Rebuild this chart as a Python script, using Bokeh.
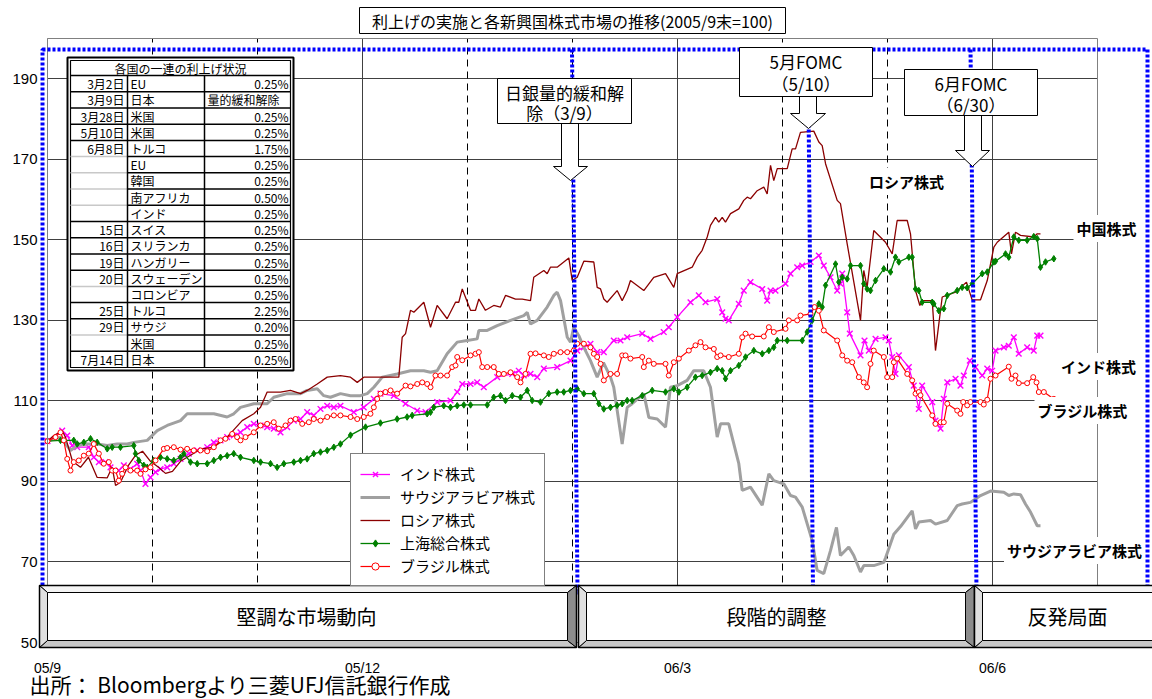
from bokeh.plotting import figure
from bokeh.models import Range1d, FixedTicker, Grid, Legend, LegendItem, Label, PolyAnnotation
from bokeh.core.properties import value
from bokeh.embed import file_html
from bokeh.resources import INLINE

JP = "Noto Sans CJK JP"
LAT = "Liberation Sans"

# ---------------- data ----------------
TITLE = "利上げの実施と各新興国株式市場の推移(2005/9末=100)"
SOURCE = "出所： Bloombergより三菱UFJ信託銀行作成"
X_LO, X_HI, Y_LO, Y_HI = 0.0, 10.0, 50.0, 200.0
X_TICKS = [0, 3, 6, 9]
X_TICK_LABELS = ["05/9", "05/12", "06/3", "06/6"]
Y_TICKS = [50, 70, 90, 110, 130, 150, 170, 190]
MONTH_LINES_SOLID = [3, 6, 9]
MONTH_LINES_DASHED = [1, 2, 4, 5, 7, 8]
SERIES_NAMES = ["インド株式", "サウジアラビア株式", "ロシア株式", "上海総合株式", "ブラジル株式"]
END_LABELS = ["ロシア株式", "中国株式", "インド株式", "ブラジル株式", "サウジアラビア株式"]
PHASES = ["堅調な市場動向", "段階的調整", "反発局面"]
EVENT_TEXT = [["日銀量的緩和解", "除（3/9）"], ["5月FOMC", "（5/10）"], ["6月FOMC", "（6/30）"]]

TABLE_HEADER = "各国の一連の利上げ状況"
TABLE_DATES = ["3月2日", "3月9日", "3月28日", "5月10日", "6月8日", "", "", "", "", "15日", "16日",
               "19日", "20日", "", "25日", "29日", "", "7月14日"]
TABLE_COUNTRIES = ["EU", "日本", "米国", "米国", "トルコ", "EU", "韓国", "南アフリカ", "インド", "スイス",
                   "スリランカ", "ハンガリー", "スウェーデン", "コロンビア", "トルコ", "サウジ", "米国", "日本"]
TABLE_RATES = ["0.25%", "量的緩和解除", "0.25%", "0.25%", "1.75%", "0.25%", "0.25%", "0.50%", "0.25%",
               "0.25%", "0.25%", "0.25%", "0.25%", "0.25%", "2.25%", "0.20%", "0.25%", "0.25%"]

# x = months after end of Sep 2005
IND_X = [0, 0.14, 0.188, 0.235, 0.283, 0.393, 0.441, 0.489, 0.552, 0.6, 0.679, 0.727, 0.79, 0.854, 0.886, 0.933, 0.981, 1.029, 1.076, 1.14, 1.203, 1.267, 1.346, 1.426, 1.521, 1.584, 1.648, 1.711, 1.774, 1.838, 1.902, 1.965, 2.029, 2.092, 2.155, 2.219, 2.283, 2.346, 2.41, 2.473, 2.536, 2.6, 2.664, 2.727, 2.79, 2.917, 3.012, 3.108, 3.171, 3.298, 3.41, 3.521, 3.6, 3.711, 3.838, 3.902, 3.95, 4.029, 4.092, 4.155, 4.283, 4.426, 4.488, 4.536, 4.6, 4.664, 4.727, 4.854, 4.981, 5.045, 5.108, 5.171, 5.235, 5.298, 5.393, 5.457, 5.521, 5.664, 5.743, 5.869, 5.917, 5.997, 6.124, 6.203, 6.267, 6.378, 6.426, 6.457, 6.488, 6.584, 6.631, 6.695, 6.807, 6.854, 6.886, 6.933, 7.029, 7.076, 7.14, 7.188, 7.267, 7.346, 7.393, 7.457, 7.521, 7.552, 7.569, 7.616, 7.641, 7.743, 7.781, 7.822, 7.886, 7.981, 8.012, 8.045, 8.076, 8.108, 8.203, 8.25, 8.298, 8.33, 8.426, 8.457, 8.505, 8.536, 8.569, 8.648, 8.695, 8.727, 8.784, 8.838, 8.902, 8.95, 8.997, 9.029, 9.108, 9.155, 9.203, 9.25, 9.33, 9.393, 9.426, 9.457]
IND_Y = [100, 102.6, 101.4, 98.9, 98.5, 98.5, 96, 94.8, 94.8, 93.5, 92.7, 94, 93.1, 94.4, 92.7, 89.4, 91, 92.3, 93.1, 93.5, 94.4, 95.6, 96.9, 97.7, 98.5, 99.7, 100.2, 101, 101.4, 102.2, 103.5, 104.3, 103.9, 103.5, 103.1, 102.2, 103.5, 105.1, 105.5, 107.2, 106.4, 108, 108.8, 108.4, 108.8, 107.2, 108.4, 110.5, 111.8, 111.3, 109.3, 107.6, 107.2, 109.7, 110.1, 112.2, 114.2, 114.2, 114.6, 113.4, 115.9, 116.7, 117.5, 116.3, 116.7, 115.9, 118, 118.4, 120, 122.5, 123.3, 124.2, 122.1, 122.1, 125, 125, 125.8, 126.7, 125.4, 127.1, 128.3, 130.8, 134.5, 136.2, 134.5, 135.3, 132, 130.4, 130, 134.1, 137.4, 139.5, 137.8, 134.9, 137.4, 137.4, 139.1, 141.6, 143.2, 143.6, 144.5, 146.1, 143.6, 140.7, 137.4, 139.1, 141.6, 132, 126.7, 121.3, 125, 122.5, 125.4, 125.8, 125, 120.9, 116.7, 121.3, 118.4, 113.8, 108, 113.8, 109.7, 105.1, 103.1, 110.5, 114.6, 115.5, 113.8, 116.3, 120, 118.4, 116.3, 118, 117.5, 122.5, 123.3, 123.7, 125.8, 121.7, 123.3, 122.5, 126.2, 126.2]

SAU_X = [0, 0.124, 0.219, 0.283, 0.378, 0.473, 0.569, 0.664, 0.759, 0.822, 0.95, 1.045, 1.14, 1.267, 1.33, 1.457, 1.584, 1.711, 1.774, 1.838, 1.965, 2.092, 2.155, 2.283, 2.41, 2.473, 2.569, 2.631, 2.695, 2.79, 2.886, 2.981, 3.045, 3.108, 3.188, 3.33, 3.457, 3.584, 3.648, 3.711, 3.806, 3.902, 3.997, 4.092, 4.108, 4.188, 4.283, 4.41, 4.536, 4.569, 4.6, 4.664, 4.759, 4.822, 4.854, 4.886, 4.95, 4.981, 5.012, 5.06, 5.108, 5.171, 5.235, 5.295, 5.362, 5.393, 5.473, 5.521, 5.568, 5.679, 5.727, 5.807, 5.886, 5.933, 5.997, 6.092, 6.155, 6.25, 6.314, 6.378, 6.41, 6.488, 6.584, 6.616, 6.695, 6.807, 6.87, 6.917, 7.012, 7.076, 7.124, 7.188, 7.283, 7.33, 7.393, 7.457, 7.514, 7.552, 7.631, 7.679, 7.743, 7.774, 7.869, 7.965, 7.981, 8.06, 8.124, 8.235, 8.267, 8.298, 8.41, 8.457, 8.569, 8.664, 8.711, 8.79, 8.886, 8.981, 9.108, 9.155, 9.203, 9.267, 9.314, 9.362, 9.426, 9.457]
SAU_Y = [100, 101, 97.7, 98.9, 99.3, 99.3, 98.9, 99.3, 99.3, 99.7, 100.2, 102.6, 103.9, 105.1, 106.8, 106.8, 106.8, 106, 106.8, 108.4, 109.3, 109.3, 110.9, 111.8, 111.8, 112.6, 113, 111.3, 110.9, 111.8, 111.3, 111.3, 111.8, 113.4, 115.9, 116.7, 117.5, 117.5, 117.1, 117.5, 121.7, 124.6, 125, 125.4, 127.5, 127.5, 128.7, 130, 131.2, 132, 129.1, 130, 133.3, 136.2, 137, 134.9, 125.8, 124.6, 128.3, 126.2, 123.3, 120, 115.9, 119.5, 115.9, 113.4, 99.3, 108.4, 109.3, 111.8, 105.9, 105.5, 103.5, 113.4, 113.8, 115.1, 117.5, 117.5, 113.4, 101, 104.3, 104.3, 94.4, 87.8, 88.6, 84.1, 91.9, 90.2, 89.4, 86.5, 86.1, 83.6, 75.3, 67.9, 67.1, 72.8, 78.6, 71.6, 73.7, 71.6, 67.5, 69.1, 69.1, 69.9, 71, 76.9, 78.8, 82.7, 78.2, 79.9, 80.3, 79.4, 80.3, 84, 84.4, 84.8, 86.5, 87.6, 87.3, 86.5, 86.9, 86.7, 84.4, 82.4, 79, 79]

RUS_X = [0, 0.06, 0.14, 0.171, 0.238, 0.314, 0.39, 0.473, 0.569, 0.616, 0.648, 0.695, 0.771, 0.838, 0.905, 0.981, 1.057, 1.124, 1.19, 1.267, 1.362, 1.457, 1.581, 1.711, 1.854, 1.965, 2.029, 2.092, 2.219, 2.314, 2.41, 2.473, 2.569, 2.664, 2.79, 2.886, 2.95, 3.012, 3.14, 3.251, 3.346, 3.378, 3.41, 3.457, 3.489, 3.584, 3.648, 3.711, 3.806, 3.886, 3.917, 3.95, 4.029, 4.076, 4.108, 4.171, 4.25, 4.314, 4.362, 4.457, 4.521, 4.6, 4.631, 4.727, 4.759, 4.79, 4.854, 4.917, 4.965, 4.997, 5.045, 5.108, 5.203, 5.235, 5.267, 5.298, 5.33, 5.425, 5.473, 5.521, 5.552, 5.679, 5.774, 5.886, 5.965, 5.997, 6.14, 6.188, 6.235, 6.283, 6.314, 6.362, 6.393, 6.426, 6.457, 6.505, 6.584, 6.631, 6.664, 6.695, 6.759, 6.822, 6.854, 6.886, 6.917, 6.95, 7.045, 7.092, 7.124, 7.171, 7.298, 7.346, 7.378, 7.41, 7.521, 7.552, 7.616, 7.743, 7.774, 7.806, 7.869, 7.981, 8.045, 8.092, 8.188, 8.219, 8.267, 8.308, 8.33, 8.426, 8.457, 8.521, 8.648, 8.752, 8.806, 8.886, 8.95, 9.013, 9.045, 9.155, 9.181, 9.219, 9.267, 9.393, 9.426, 9.457]
RUS_Y = [100, 101.4, 102.6, 101, 95, 93.5, 96, 91, 90.9, 93.5, 89, 89.8, 94, 96.5, 97.5, 95, 93.5, 92, 92.5, 95, 96.5, 98, 98.5, 101, 105.1, 106.8, 108.4, 112.2, 112.2, 112.6, 111.8, 112.6, 114.2, 115.9, 116.3, 115.9, 114.6, 115.9, 115.9, 115.9, 115.9, 125.8, 126.7, 132.5, 132, 134.5, 128.3, 133.7, 130.4, 134.5, 134.5, 137.8, 132.5, 132.5, 135.3, 132.5, 133.7, 133.3, 136.2, 135.3, 135.3, 134.9, 140.7, 142.4, 141.6, 143.2, 143.2, 144.5, 145.5, 139.9, 140.7, 144.7, 144.5, 138.2, 137.8, 135.3, 134.5, 137.4, 134.9, 137.4, 139.9, 137.4, 140.7, 141.6, 138.2, 141.6, 143.2, 145.7, 147.4, 150.7, 153.6, 155.6, 154.4, 155.6, 154.4, 156.5, 157.7, 159.8, 160.6, 160.2, 162.2, 163.1, 161.4, 168.5, 164.7, 167.7, 167.7, 172.6, 172.6, 176.7, 177, 174.3, 173.4, 168.9, 159.8, 159, 149, 130, 142.4, 138.2, 152.3, 149.4, 146.5, 154.8, 154.8, 151.5, 137.4, 133.7, 134.9, 134.9, 122.5, 135.8, 137, 139.5, 135.1, 135.1, 139.9, 148.2, 149.4, 151.9, 146.5, 151.9, 151.1, 150.7, 151.5, 151.5]

CHN_X = [0, 0.124, 0.25, 0.283, 0.346, 0.41, 0.473, 0.569, 0.616, 0.695, 0.822, 0.838, 0.87, 0.917, 0.95, 1.012, 1.076, 1.14, 1.203, 1.267, 1.298, 1.362, 1.426, 1.521, 1.584, 1.648, 1.711, 1.774, 1.838, 1.965, 2.029, 2.124, 2.187, 2.251, 2.346, 2.41, 2.473, 2.536, 2.6, 2.664, 2.727, 2.79, 2.886, 3.029, 3.171, 3.33, 3.425, 3.473, 3.616, 3.648, 3.679, 3.774, 3.838, 3.902, 3.965, 4.029, 4.188, 4.25, 4.314, 4.362, 4.426, 4.505, 4.569, 4.616, 4.695, 4.774, 4.854, 4.917, 4.981, 5.045, 5.108, 5.203, 5.251, 5.298, 5.362, 5.425, 5.473, 5.521, 5.568, 5.664, 5.759, 5.886, 5.965, 6.013, 6.092, 6.171, 6.235, 6.314, 6.378, 6.426, 6.457, 6.505, 6.584, 6.648, 6.727, 6.807, 6.87, 6.917, 6.95, 7.045, 7.188, 7.235, 7.283, 7.346, 7.378, 7.41, 7.505, 7.536, 7.569, 7.616, 7.648, 7.743, 7.774, 7.806, 7.838, 7.886, 7.965, 8.029, 8.076, 8.108, 8.203, 8.235, 8.267, 8.298, 8.33, 8.426, 8.441, 8.489, 8.536, 8.569, 8.664, 8.711, 8.759, 8.807, 8.902, 8.95, 9.013, 9.029, 9.124, 9.155, 9.203, 9.25, 9.33, 9.393, 9.426, 9.457, 9.505, 9.584]
CHN_Y = [100, 100.2, 100.2, 99.3, 99.7, 100.6, 99.7, 98.1, 98.5, 98.5, 98.9, 96.9, 95.2, 94, 93.5, 95.2, 96, 95.6, 95.2, 96, 96.9, 94.8, 94.4, 94.4, 95.2, 96, 96.4, 96.9, 96, 95.2, 94.8, 94.4, 93.5, 94.4, 94.8, 95.2, 95.6, 96.9, 97.3, 97.7, 98.5, 99.3, 101.5, 103.5, 104.5, 105.5, 106, 106.4, 106.8, 107.2, 108.4, 108.8, 108.4, 108.8, 109, 109, 109, 110.9, 111.3, 110.1, 111.3, 110.9, 112.6, 110.1, 109.7, 111.8, 112.2, 112.2, 112.6, 113, 111.8, 111.8, 109.3, 108, 108.4, 108.9, 109.3, 110.1, 110.1, 111.3, 112.6, 112.2, 113, 112.2, 113.4, 115.9, 116.3, 117.1, 118, 117.5, 115.5, 117.5, 118.8, 120.9, 122.5, 121.7, 122.5, 123.3, 125, 125, 125, 127.1, 130, 134.1, 133.3, 138.7, 144, 139.5, 140.7, 140.3, 143.6, 143.6, 139.1, 137.8, 137.4, 139.9, 142.8, 142, 145.7, 144.5, 145.7, 145.7, 137.8, 137.4, 134.5, 134.5, 134.1, 132.4, 132.9, 136.2, 137.4, 138.2, 138.1, 139.1, 141.6, 142, 144.5, 144.7, 146.5, 145.7, 150.7, 149.9, 149.9, 150.8, 150.3, 143.2, 144.5, 145.3]

BRA_X = [0, 0.076, 0.124, 0.155, 0.188, 0.219, 0.25, 0.298, 0.346, 0.393, 0.441, 0.489, 0.536, 0.584, 0.616, 0.648, 0.679, 0.711, 0.743, 0.79, 0.854, 0.886, 0.933, 0.981, 1.029, 1.108, 1.14, 1.203, 1.267, 1.33, 1.393, 1.457, 1.521, 1.584, 1.648, 1.695, 1.759, 1.806, 1.838, 1.886, 1.965, 2.029, 2.092, 2.155, 2.203, 2.267, 2.314, 2.362, 2.426, 2.489, 2.536, 2.6, 2.664, 2.727, 2.79, 2.886, 2.95, 3.012, 3.076, 3.108, 3.14, 3.171, 3.219, 3.267, 3.33, 3.41, 3.457, 3.521, 3.569, 3.616, 3.648, 3.695, 3.743, 3.806, 3.854, 3.886, 3.902, 3.95, 4.029, 4.076, 4.108, 4.14, 4.188, 4.25, 4.298, 4.346, 4.41, 4.474, 4.505, 4.552, 4.6, 4.648, 4.727, 4.774, 4.822, 4.886, 4.95, 5.012, 5.045, 5.108, 5.171, 5.203, 5.235, 5.267, 5.298, 5.362, 5.425, 5.473, 5.505, 5.552, 5.664, 5.679, 5.727, 5.774, 5.886, 5.917, 5.965, 6.013, 6.108, 6.171, 6.219, 6.267, 6.346, 6.378, 6.41, 6.488, 6.584, 6.616, 6.648, 6.711, 6.822, 6.87, 6.917, 7.029, 7.06, 7.14, 7.171, 7.267, 7.305, 7.346, 7.393, 7.521, 7.569, 7.616, 7.664, 7.727, 7.774, 7.806, 7.838, 7.869, 7.965, 7.997, 8.045, 8.06, 8.092, 8.188, 8.235, 8.267, 8.298, 8.314, 8.426, 8.457, 8.505, 8.536, 8.569, 8.664, 8.695, 8.721, 8.759, 8.79, 8.886, 8.917, 8.95, 8.981, 9.029, 9.155, 9.181, 9.219, 9.25, 9.33, 9.388, 9.419, 9.441, 9.489, 9.584]
BRA_Y = [100, 101, 102.2, 100.2, 95.6, 92.7, 94.8, 95.2, 96.4, 96.9, 99.3, 96.9, 94.4, 94.8, 92.7, 92.7, 90.2, 91.9, 93.5, 92.7, 92.7, 91.9, 93, 93.5, 95.2, 98.1, 98.3, 98.5, 97.9, 98.1, 97.7, 97.7, 97.5, 98.5, 100.2, 100.6, 101.8, 101, 100.2, 101, 102.2, 103.9, 104.3, 104.7, 103.1, 103.9, 105.1, 105.5, 104.3, 104.7, 105.5, 105.1, 106, 106.4, 106.4, 106, 105.5, 106, 106.8, 108.4, 110.5, 111.8, 112.2, 112.6, 111.8, 113.8, 113.6, 114.2, 114.6, 114.2, 113.4, 116.3, 116.3, 116.3, 118.4, 118.8, 120.9, 120.1, 121.3, 121.7, 122.1, 118.4, 118.4, 118.4, 116.7, 116.7, 117.1, 115.9, 114.6, 116.7, 121.7, 121.8, 121.3, 120.9, 121.7, 122.1, 122.1, 122.5, 124.2, 124.2, 123.3, 121.7, 120.9, 119.2, 115.1, 116.7, 116.7, 121.3, 121.3, 120.5, 120.9, 118.4, 120, 119.2, 119.2, 116.3, 119.6, 120.5, 122.5, 123.8, 124.6, 123.3, 122.9, 120.9, 121.3, 120.9, 121.7, 125.8, 126.7, 126, 126, 128.3, 127.1, 127.9, 130, 130, 131.2, 131.6, 133.3, 132.4, 127.5, 125, 121.3, 120, 119.6, 115.9, 114.6, 113.4, 119.2, 122.5, 120.9, 115.9, 115.9, 119.6, 120.5, 116.7, 115.1, 111.8, 112.2, 111.4, 106.4, 104.3, 104.7, 104.7, 109.3, 107.6, 106.8, 109.7, 108.9, 109.7, 109.7, 109.1, 110.3, 115.5, 116.3, 118.5, 115.5, 116.3, 114.4, 114.4, 115.9, 114.6, 112.2, 112.2, 110.5]

# ---------------- layout (pixels) ----------------
W, H = 1152, 699
FL, FR, FT, FB = 47, 1097, 38, 642   # where the plot area sits in the picture


def fx(px):
    return X_LO + (px - FL) * (X_HI - X_LO) / (FR - FL)


def fy(py):
    return Y_LO + (FB - py) * (Y_HI - Y_LO) / (FB - FT)


def n2(a, b):
    n = min(len(a), len(b))
    return a[:n], b[:n]


# the frame covers the whole canvas; axes are pinned at the plot-area edges
p = figure(width=W, height=H, x_range=Range1d(fx(0), fx(W)), y_range=Range1d(fy(H), fy(0)),
           output_backend="svg", toolbar_location=None, title=None,
           min_border_left=0, min_border_right=0, min_border_top=0, min_border_bottom=0)
p.background_fill_color = "white"
p.border_fill_color = "white"
p.outline_line_color = None

# axes
p.yaxis.fixed_location = X_LO
p.yaxis.bounds = (Y_LO, Y_HI)
p.yaxis.ticker = FixedTicker(ticks=Y_TICKS)
p.yaxis.major_label_text_font = LAT
p.yaxis.major_label_text_font_size = "15px"
p.yaxis.major_label_text_color = "black"
p.yaxis.major_tick_out = 0
p.yaxis.major_tick_in = 0
p.yaxis.minor_tick_out = 0
p.yaxis.minor_tick_in = 0
p.yaxis.major_label_standoff = 10
p.yaxis.axis_line_color = "#808080"

p.xaxis.fixed_location = Y_LO
p.xaxis.bounds = (X_LO, X_HI)
p.xaxis.ticker = FixedTicker(ticks=X_TICKS)
p.xaxis.major_label_overrides = {t: s for t, s in zip(X_TICKS, X_TICK_LABELS)}
p.xaxis.major_label_text_font = LAT
p.xaxis.major_label_text_font_size = "14px"
p.xaxis.major_label_text_color = "black"
p.xaxis.major_tick_out = 0
p.xaxis.major_tick_in = 0
p.xaxis.minor_tick_out = 0
p.xaxis.minor_tick_in = 0
p.xaxis.major_label_standoff = 17
p.xaxis.axis_line_color = "#808080"

# grids (confined to the plot area)
p.ygrid.ticker = FixedTicker(ticks=Y_TICKS[1:])
p.ygrid.cross_bounds = (X_LO, X_HI)
p.ygrid.grid_line_color = "#404040"
p.ygrid.grid_line_width = 1
p.xgrid.ticker = FixedTicker(ticks=MONTH_LINES_SOLID)
p.xgrid.cross_bounds = (Y_LO, Y_HI)
p.xgrid.grid_line_color = "#404040"
p.xgrid.grid_line_width = 1
dgrid = Grid(dimension=0, ticker=FixedTicker(ticks=MONTH_LINES_DASHED), cross_bounds=(Y_LO, Y_HI),
             grid_line_color="black", grid_line_dash="7 5", grid_line_width=1)
p.add_layout(dgrid)

# plot-area border
p.quad(left=[X_LO], right=[X_HI], bottom=[Y_LO], top=[Y_HI], fill_color=None,
       line_color="#808080", line_width=1)

# ---------------- series ----------------
x, y = n2(IND_X, IND_Y)
r_ind_l = p.line(x, y, line_color="#FF00FF", line_width=1.3)
r_ind_m = p.scatter(x, y, marker="x", size=8, line_color="#FF00FF", line_width=1.4)
x, y = n2(SAU_X, SAU_Y)
r_sau = p.line(x, y, line_color="#A0A0A0", line_width=3)
x, y = n2(RUS_X, RUS_Y)
r_rus = p.line(x, y, line_color="#8B0000", line_width=1.3)
x, y = n2(CHN_X, CHN_Y)
r_chn_l = p.line(x, y, line_color="#008000", line_width=1.3)
r_chn_m = p.scatter(x, y, marker="diamond", size=6.5, fill_color="#008000", line_color="#008000")
x, y = n2(BRA_X, BRA_Y)
r_bra_l = p.line(x, y, line_color="#FF0000", line_width=1.2)
r_bra_m = p.scatter(x, y, marker="circle", size=5, fill_color="white", line_color="#FF0000", line_width=1)

# blue event lines (hand-drawn guides)
EV_TOP = [571.5, 807.5, 970.0]
EV_BOT = [577.0, 812.5, 976.0]
p.segment(x0=[fx(v) for v in EV_TOP], y0=[fy(49)] * 3, x1=[fx(v) for v in EV_BOT], y1=[fy(590)] * 3,
          line_color="#0000FF", line_width=4, line_dash="3 2")

# ---------------- table ----------------
TL, TR, TT, TB = 67, 293, 57, 370
IL, IR, IT, IB = 70, 290, 60, 367
HB = 75
C1, C2 = 127, 204
nrow = len(TABLE_DATES)
rh = (IB - HB) / nrow
p.quad(left=[fx(TL)], right=[fx(TR)], top=[fy(TT)], bottom=[fy(TB)], fill_color="white",
       line_color="black", line_width=2)
p.quad(left=[fx(IL)], right=[fx(IR)], top=[fy(IT)], bottom=[fy(IB)], fill_color="white",
       line_color="black", line_width=1.2)
seg_x0, seg_x1, seg_y, seg_c = [], [], [], []
seg_x0.append(fx(IL)); seg_x1.append(fx(IR)); seg_y.append(fy(HB)); seg_c.append("black")
for i in range(1, nrow):
    yy = fy(HB + i * rh)
    seg_x0.append(fx(IL)); seg_x1.append(fx(C1)); seg_y.append(yy)
    seg_c.append("black" if TABLE_DATES[i] else "#C8C8C8")
    seg_x0.append(fx(C1)); seg_x1.append(fx(IR)); seg_y.append(yy); seg_c.append("black")
p.segment(x0=seg_x0, y0=seg_y, x1=seg_x1, y1=seg_y, line_color=seg_c, line_width=1.5)
p.segment(x0=[fx(C1), fx(C2)], y0=[fy(HB)] * 2, x1=[fx(C1), fx(C2)], y1=[fy(IB)] * 2,
          line_color="black", line_width=1.5)
row_y = [fy(HB + (i + 0.5) * rh) for i in range(nrow)]
tfont = dict(text_font=value(JP), text_font_size=value("12px"), text_baseline="middle", text_color="black")
p.text(x=[fx((IL + IR) / 2)], y=[fy((IT + HB) / 2)], text=[TABLE_HEADER], text_align="center", **tfont)
p.text(x=[fx(C1 - 3)] * nrow, y=row_y, text=TABLE_DATES, text_align="right", **tfont)
p.text(x=[fx(C1 + 3)] * nrow, y=row_y, text=TABLE_COUNTRIES, text_align="left", **tfont)
pct = [i for i, t in enumerate(TABLE_RATES) if t.endswith("%")]
oth = [i for i, t in enumerate(TABLE_RATES) if not t.endswith("%")]
p.text(x=[fx(IR - 2)] * len(pct), y=[row_y[i] for i in pct], text=[TABLE_RATES[i] for i in pct],
       text_align="right", **tfont)
p.text(x=[fx(C2 + 3)] * len(oth), y=[row_y[i] for i in oth], text=[TABLE_RATES[i] for i in oth],
       text_align="left", **tfont)


# ---------------- annotations ----------------
def poly(pts, fill, line="black", lw=1.0, dash="solid"):
    pa = PolyAnnotation(xs=[fx(a) for a, _ in pts], ys=[fy(b) for _, b in pts],
                        fill_color=fill, fill_alpha=1.0 if fill else 0.0,
                        line_color=line, line_alpha=1.0, line_width=lw, line_dash=dash)
    p.add_layout(pa)


def label(px, py, text, size, align="center", bold=False, bg=None, pad=0):
    lb = Label(x=fx(px), y=fy(py), text=text, text_font=JP, text_font_size=size,
               text_align=align, text_baseline="middle", text_color="black",
               text_font_style="bold" if bold else "normal")
    if bg:
        lb.background_fill_color = bg
        lb.background_fill_alpha = 1.0
        try:
            lb.padding = pad
        except Exception:
            pass
    p.add_layout(lb)


# blue dotted frame
poly([(42, 49), (1147, 49), (1147, 592), (42, 592)], None, line="#0000FF", lw=4, dash="3 2")

# call-out boxes with block arrows
CALL_BOX = [(497, 631, 78, 123), (739, 872, 47, 96), (904, 1037, 69, 115)]
CALL_SHAFT = [(561, 578), (799, 816), (964, 981)]
CALL_HEAD = [(553, 587), (790, 825), (955, 989)]
CALL_NECK = [166, 113, 150]
CALL_TIP = [(570, 180), (808, 128), (972, 166)]
CALL_LY = [(92, 112), (61, 83), (83, 104)]
for k in range(3):
    bx0, bx1, by0, by1 = CALL_BOX[k]
    s0, s1 = CALL_SHAFT[k]
    h0, h1 = CALL_HEAD[k]
    nk = CALL_NECK[k]
    tx, ty = CALL_TIP[k]
    poly([(s0, by1), (s1, by1), (s1, nk), (h1, nk), (tx, ty), (h0, nk), (s0, nk)], "white")
    poly([(bx0, by0), (bx1, by0), (bx1, by1), (bx0, by1)], "white")
    for t, ly in zip(EVENT_TEXT[k], CALL_LY[k]):
        label((bx0 + bx1) / 2, ly, t, "17px")

# legend (location = bottom-left corner, measured from the canvas bottom-left)
legend = Legend(items=[
    LegendItem(label=SERIES_NAMES[0], renderers=[r_ind_l, r_ind_m]),
    LegendItem(label=SERIES_NAMES[1], renderers=[r_sau]),
    LegendItem(label=SERIES_NAMES[2], renderers=[r_rus]),
    LegendItem(label=SERIES_NAMES[3], renderers=[r_chn_l, r_chn_m]),
    LegendItem(label=SERIES_NAMES[4], renderers=[r_bra_l, r_bra_m]),
], location=(350, H - 586))
legend.label_text_font = JP
legend.label_text_font_size = "15px"
legend.label_text_color = "black"
legend.border_line_color = "black"
legend.border_line_width = 1
legend.background_fill_color = "white"
legend.background_fill_alpha = 1.0
legend.padding = 9
legend.spacing = 2
legend.margin = 0
legend.label_height = 18
legend.glyph_height = 18
legend.glyph_width = 30
legend.label_standoff = 10
p.add_layout(legend)

# series end labels
END_POS = [(906, 181), (1106, 228), (1098, 366), (1082, 410), (1074, 550)]
for t, (ex, ey) in zip(END_LABELS, END_POS):
    label(ex, ey, t, "15px", bold=True, bg="white", pad=3)

# phase boxes (bevelled)
PH_X = [(39, 576), (578, 974), (974, 1175)]
PY0, PY1 = 585, 647
BL, BR, BT, BB = 8, 9, 7, 7
PH_TEXT_X = [306, 776, 1067]
for (x0, x1), t, tx in zip(PH_X, PHASES, PH_TEXT_X):
    poly([(x0, PY0), (x1, PY0), (x1 - BR, PY0 + BT), (x0 + BL, PY0 + BT)], "#F4F4F4")
    poly([(x0, PY1), (x1, PY1), (x1 - BR, PY1 - BB), (x0 + BL, PY1 - BB)], "#C8C8C8")
    poly([(x0, PY0), (x0 + BL, PY0 + BT), (x0 + BL, PY1 - BB), (x0, PY1)], "#E0E0E0")
    poly([(x1, PY0), (x1 - BR, PY0 + BT), (x1 - BR, PY1 - BB), (x1, PY1)], "#8C8C8C")
    poly([(x0 + BL, PY0 + BT), (x1 - BR, PY0 + BT), (x1 - BR, PY1 - BB), (x0 + BL, PY1 - BB)], "white")
    poly([(x0, PY0), (x1, PY0), (x1, PY1), (x0, PY1)], None, lw=1.5)
    label(tx, 616, t, "20px")

# title box
poly([(359, 7), (785, 7), (785, 33), (359, 33)], "white")
label(572, 20, TITLE, "16px")

# source note
label(29, 683, SOURCE, "21px", align="left")

open("out.html", "w").write(file_html(p, INLINE))
